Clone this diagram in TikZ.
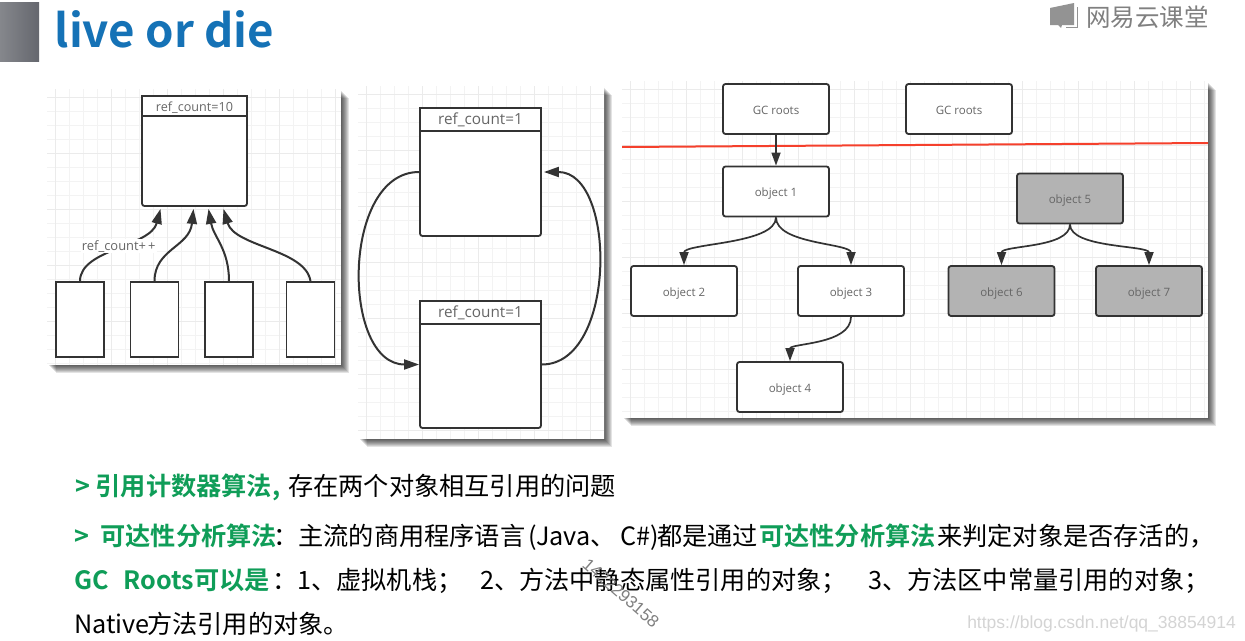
\documentclass[tikz,border=0pt]{standalone}
\usepackage{fontspec}
\setmainfont{Open Sans}
\newfontfamily\cjk{Noto Sans CJK SC}
\newfontfamily\cjkb{Noto Sans CJK SC Bold}
\newfontfamily\liber{Liberation Sans}
\usetikzlibrary{arrows.meta,calc}
\definecolor{inkc}{HTML}{333333}
\definecolor{labelc}{HTML}{666666}
\definecolor{gridc}{HTML}{F3F3F3}
\definecolor{gridm}{HTML}{EBEBEB}
\definecolor{greenc}{HTML}{0F9D58}
\definecolor{bluec}{HTML}{1572B6}
\definecolor{deadc}{HTML}{B3B3B3}
\definecolor{redc}{HTML}{F5402C}
\definecolor{sqa}{HTML}{85878C}
\definecolor{sqb}{HTML}{65676E}
\newcommand{\panelbg}[4]{%
  \foreach \s in {1,2,...,8}{\fill[black,opacity=.11] (#1+\s+1,#2+\s+1) rectangle (#3+\s,#4+\s);}
  \fill[white] (#1,#2) rectangle (#3,#4);
  \begin{scope}
    \clip (#1,#2) rectangle (#3,#4);
    \foreach \g in {8,22,...,600}{\draw[gridc,line width=.6pt] (#1+\g,#2) -- (#1+\g,#4);\draw[gridc,line width=.6pt] (#1,#2+\g) -- (#3,#2+\g);}
    \foreach \g in {8,64,...,600}{\draw[gridm,line width=.9pt] (#1+\g,#2) -- (#1+\g,#4);\draw[gridm,line width=.9pt] (#1,#2+\g) -- (#3,#2+\g);}
  \end{scope}}
\tikzset{
  x=1pt,y=-1pt,
  boxa/.style={draw=inkc,line width=1.8pt,fill=white,rounded corners=2.5pt,inner sep=0pt,text=labelc,font=\fontsize{11.5}{13}\selectfont,text height=10.5pt,text depth=0pt},
  objbox/.style={boxa,minimum width=106pt,minimum height=50pt},
  deadbox/.style={objbox,fill=deadc},
  refbox/.style={boxa,minimum width=48pt,minimum height=75pt,rounded corners=0pt},
  headbox/.style={draw=inkc,line width=1.8pt,fill=white,inner sep=0pt,text=labelc,font=\fontsize{15.3}{17}\selectfont,text height=10.5pt,text depth=0pt},
  conn/.style={draw=inkc,line width=2pt,-{Triangle[length=15pt,width=10pt]}},
  conns/.style={draw=inkc,line width=1.7pt,-{Triangle[length=13pt,width=9pt]}},
  txt/.style={anchor=base west,inner sep=0pt,font=\cjk\fontsize{25.2}{28}\selectfont,text=black},
  txtg/.style={txt,font=\cjkb\fontsize{25.2}{28}\selectfont,text=greenc},
}
\begin{document}
\begin{tikzpicture}
\useasboundingbox (0,0) rectangle (1245,640);
\fill[white] (0,0) rectangle (1245,640);
% header
\shade[left color=sqa,right color=sqb] (0,2) rectangle (39,61);
\node[anchor=base west,inner sep=0pt,text=bluec,font=\cjkb\fontsize{45.6}{50}\selectfont] (title) at (54.5,47) {live or die};
\fill[gray!85] (1050,8) -- (1074,3) -- (1074,25) -- (1062,25) -- (1061,28) -- (1058,25) -- (1050,25) -- cycle;
\draw[gray!85,line width=1pt] (1077,7) -- (1077,27) -- (1066,27);
\node[anchor=base west,inner sep=0pt,text=gray,font=\cjk\fontsize{24.5}{28}\selectfont] (logo) at (1086,26) {网易云课堂};
% panel 1
\panelbg{47}{89}{341}{365}
\node[boxa,minimum width=105pt,minimum height=110pt] (main) at (194.5,151) {};
\node[headbox,minimum width=105pt,minimum height=20pt,font=\fontsize{12.6}{15}\selectfont] (mainh) at (194.5,106) {ref\_count=10};
\node[refbox] (a) at (80,319.5) {};
\node[refbox] (b) at (154.5,319.5) {};
\node[refbox] (c) at (229,319.5) {};
\node[refbox] (d) at (310.5,319.5) {};
\draw[conn] (a.north) .. controls +(0,-32) and +(-10,38) .. ([xshift=-34pt,yshift=-2pt]main.south) node[pos=.52,fill=white,inner sep=1pt,text=labelc,font=\fontsize{12.9}{15}\selectfont] (lbl) {ref\_count+\,+};
\draw[conn] (b.north) .. controls +(0,-32) and +(-4,38) .. ([xshift=-1pt,yshift=-2pt]main.south);
\draw[conn] (c.north) .. controls +(0,-32) and +(5,28) .. ([xshift=14pt,yshift=-2pt]main.south);
\draw[conn] (d.north) .. controls +(-5,-32) and +(11,38) .. ([xshift=29pt,yshift=-2pt]main.south);
% panel 2
\panelbg{358}{86}{604}{439}
\node[boxa,minimum width=121pt,minimum height=128pt] (r1) at (480.5,172) {};
\node[headbox,minimum width=121pt,minimum height=23pt] (r1h) at (480.5,119.5) {ref\_count=1};
\node[boxa,minimum width=121pt,minimum height=127pt] (r2) at (480.5,364.5) {};
\node[headbox,minimum width=121pt,minimum height=23pt] (r2h) at (480.5,312.5) {ref\_count=1};
\draw[conn] (r1.west) .. controls +(-78,0) and +(-78,0) .. (r2.west);
\draw[conn] (r2.east) .. controls +(75,0) and +(73,0) .. ([xshift=2pt]r1.east);
% panel 3
\panelbg{622}{81}{1208}{418}
\node[objbox] (g1) at (776,109) {GC roots};
\node[objbox] (g2) at (959,109) {GC roots};
\coordinate (ra) at (622,147);
\coordinate (rb) at (1208,143);
\draw[redc,line width=2pt] (ra) -- (rb);
\node[objbox] (o1) at (776,191.5) {object 1};
\node[objbox] (o2) at (684,291) {object 2};
\node[objbox] (o3) at (851,291) {object 3};
\node[objbox] (o4) at (790,387) {object 4};
\node[deadbox] (o5) at (1070,198.5) {object 5};
\node[deadbox] (o6) at (1001.5,291) {object 6};
\node[deadbox] (o7) at (1149,291) {object 7};
\draw[conns] (g1) -- (o1);
\draw[conns] (o1.south) .. controls +(0,27) and +(0,-22) .. (o2.north);
\draw[conns] (o1.south) .. controls +(0,27) and +(0,-22) .. (o3.north);
\draw[conns] (o5.south) .. controls +(0,24) and +(0,-20) .. (o6.north);
\draw[conns] (o5.south) .. controls +(0,24) and +(0,-20) .. (o7.north);
\draw[conns] (o3.south) .. controls +(0,28) and +(0,-18) .. (o4.north);
% text
\node[txtg] (l1a) at (75,495) {> 引用计数器算法,};
\node[txt] (l1b) at (288,495) {存在两个对象相互引用的问题};
\node[txtg] (l2a) at (74,545) {>\ \ 可达性分析算法};
\node[txt] (l2b) at (273,545) {：主流的商用程序语言};
\node[txt] (l2e) at (528,545) {(Java、};
\node[txt] (l2f) at (620,545) {C\#)};
\node[txt] (l2g) at (657,545) {都是通过};
\node[txtg] (l2c) at (759,545) {可达性分析算法};
\node[txt] (l2d) at (937,545) {来判定对象是否存活的，};
\node[txtg] (l3a) at (74,589) {GC\hspace{15pt}Roots可以是};
\node[txt] (l3b) at (272,589) {：1、虚拟机栈；};
\node[txt] (l3c) at (480,589) {2、方法中静态属性引用的对象；};
\node[txt] (l3d) at (868,589) {3、方法区中常量引用的对象；};
\node[txt] (l4a) at (74,633) {Native};
\node[txt] (l4b) at (147,633) {方法引用的对象。};
\node[rotate=-41,inner sep=0pt,text=gray,font=\liber\fontsize{17}{19}\selectfont] (wm) at (621,593) {1422293158};
\node[anchor=base east,inner sep=0pt,text=black!17,font=\liber\fontsize{17.5}{19}\selectfont] (csdn) at (1236,628) {https://blog.csdn.net/qq\_38854914};
\end{tikzpicture}
\end{document}
